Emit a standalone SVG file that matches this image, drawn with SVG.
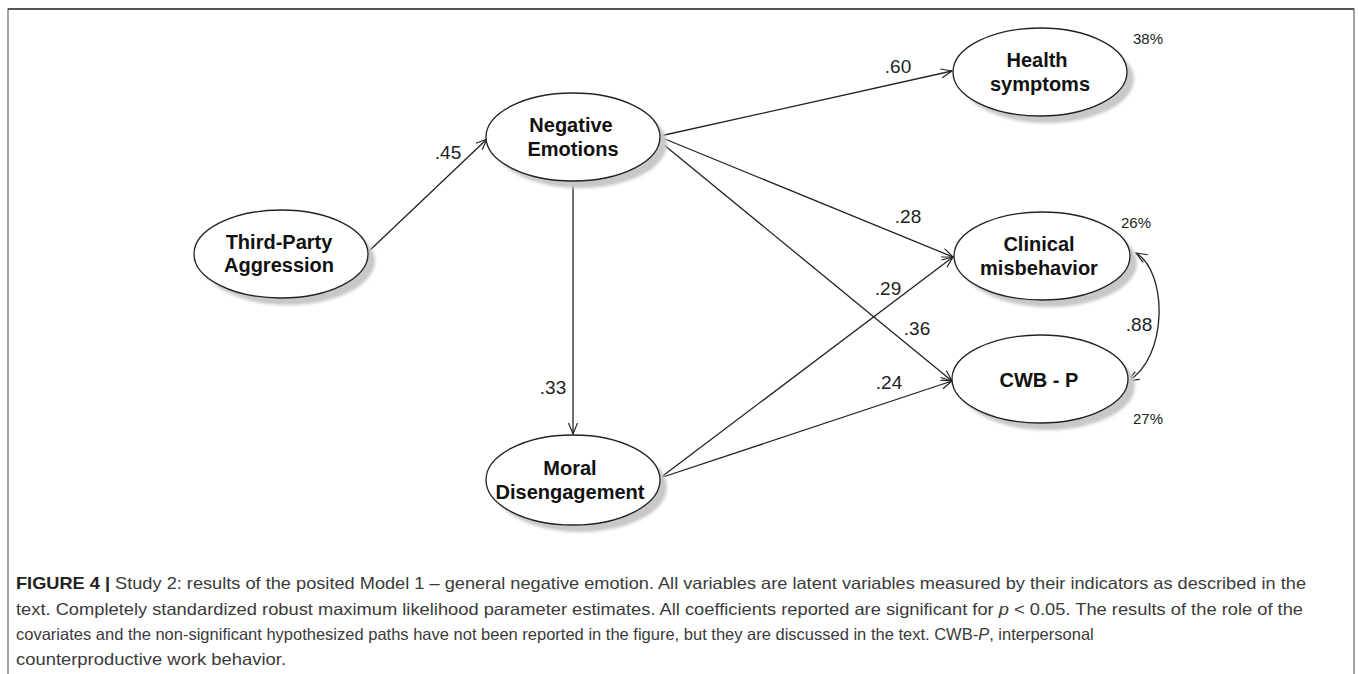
<svg xmlns="http://www.w3.org/2000/svg" width="1358" height="674" viewBox="0 0 1358 674">
<defs>
  <filter id="blur" x="-20%" y="-20%" width="140%" height="140%">
    <feGaussianBlur stdDeviation="1.5"/>
  </filter>
  <marker id="arr" markerUnits="userSpaceOnUse" markerWidth="14" markerHeight="12" refX="12" refY="5" orient="auto-start-reverse" viewBox="0 0 14 12">
    <path d="M1,0.5 L12,5 L1,9.5" fill="none" stroke="#222" stroke-width="1.2"/>
  </marker>
</defs>
<style>
  .shadow { fill: #c8c8c8; filter: url(#blur); }
  .node { fill: #fff; stroke: #222; stroke-width: 1.3; }
  .lbl { font-family: "Liberation Sans", Arial, sans-serif; font-weight: bold; font-size: 20px; fill: #111; text-anchor: middle; }
  .coef { font-family: "Liberation Sans", Arial, sans-serif; font-size: 19px; fill: #222; text-anchor: middle; }
  .pct { font-family: "Liberation Sans", Arial, sans-serif; font-size: 15px; fill: #222; text-anchor: middle; }
  .edge { fill: none; stroke: #222; stroke-width: 1.3; marker-end: url(#arr); }
  .cap { font-family: "Liberation Sans", Arial, sans-serif; font-size: 16.5px; fill: #3a3a3a; }
</style>
<rect width="1358" height="674" fill="#fff"/>
<g id="frame" fill="none">
  <path d="M8,674 L8,9 L1354,9 L1354,674" stroke="#666" stroke-width="1.2"/>
  <line x1="8" y1="9" x2="1354" y2="9" stroke="#555" stroke-width="2"/>
</g>

<g id="connectors">
  <line class="edge" x1="368" y1="252" x2="487" y2="139"/>
  <line class="edge" x1="660" y1="136" x2="952" y2="71"/>
  <line class="edge" x1="660" y1="137" x2="953" y2="257"/>
  <line class="edge" x1="658" y1="140" x2="952" y2="381"/>
  <line class="edge" x1="573" y1="181" x2="573" y2="434"/>
  <line class="edge" x1="660" y1="478" x2="953" y2="257"/>
  <line class="edge" x1="660" y1="478" x2="952" y2="381"/>
  <path class="edge" d="M1136,253 C1168,272 1168,358 1128,381" style="marker-start:url(#arr)"/>
  <text class="coef" x="448" y="159">.45</text>
  <text class="coef" x="898" y="73">.60</text>
  <text class="coef" x="908" y="223">.28</text>
  <text class="coef" x="888" y="295">.29</text>
  <text class="coef" x="917" y="335">.36</text>
  <text class="coef" x="889" y="389">.24</text>
  <text class="coef" x="553" y="394">.33</text>
  <text class="coef" x="1139" y="331">.88</text>
</g>

<g id="tpa">
  <ellipse class="shadow" cx="288" cy="261" rx="87" ry="44"/>
  <ellipse class="node" cx="281" cy="254" rx="87" ry="44"/>
  <text class="lbl" x="279" y="249">Third-Party</text>
  <text class="lbl" x="279" y="272">Aggression</text>
</g>
<g id="negative-emotions">
  <ellipse class="shadow" cx="580" cy="144" rx="87" ry="44"/>
  <ellipse class="node" cx="573" cy="137" rx="87" ry="44"/>
  <text class="lbl" x="571" y="132">Negative</text>
  <text class="lbl" x="573" y="156">Emotions</text>
</g>
<g id="health">
  <ellipse class="shadow" cx="1047" cy="79" rx="87" ry="44"/>
  <ellipse class="node" cx="1040" cy="72" rx="87" ry="44"/>
  <text class="lbl" x="1037" y="67">Health</text>
  <text class="lbl" x="1040" y="91">symptoms</text>
  <text class="pct" x="1148" y="44">38%</text>
</g>
<g id="clinical">
  <ellipse class="shadow" cx="1049" cy="263" rx="88" ry="44"/>
  <ellipse class="node" cx="1042" cy="256" rx="88" ry="44"/>
  <text class="lbl" x="1039" y="251">Clinical</text>
  <text class="lbl" x="1039" y="275">misbehavior</text>
  <text class="pct" x="1136" y="228">26%</text>
</g>
<g id="cwbp">
  <ellipse class="shadow" cx="1047" cy="386" rx="88" ry="44"/>
  <ellipse class="node" cx="1040" cy="379" rx="88" ry="44"/>
  <text class="lbl" x="1039" y="387">CWB - P</text>
  <text class="pct" x="1148" y="424">27%</text>
</g>
<g id="moral">
  <ellipse class="shadow" cx="580" cy="487" rx="87" ry="45"/>
  <ellipse class="node" cx="573" cy="480" rx="87" ry="45"/>
  <text class="lbl" x="570" y="475">Moral</text>
  <text class="lbl" x="570" y="499">Disengagement</text>
</g>

<g id="caption">
  <text class="cap" x="16" y="589" textLength="1290" lengthAdjust="spacingAndGlyphs"><tspan font-weight="bold" fill="#222">FIGURE 4 |</tspan> Study 2: results of the posited Model 1 – general negative emotion. All variables are latent variables measured by their indicators as described in the</text>
  <text class="cap" x="16" y="615" textLength="1287" lengthAdjust="spacingAndGlyphs">text. Completely standardized robust maximum likelihood parameter estimates. All coefficients reported are significant for <tspan font-style="italic">p</tspan> &lt; 0.05. The results of the role of the</text>
  <text class="cap" x="16" y="640">covariates and the non-significant hypothesized paths have not been reported in the figure, but they are discussed in the text. CWB-<tspan font-style="italic">P</tspan>, interpersonal</text>
  <text class="cap" x="16" y="665" textLength="270" lengthAdjust="spacingAndGlyphs">counterproductive work behavior.</text>
</g>
</svg>
